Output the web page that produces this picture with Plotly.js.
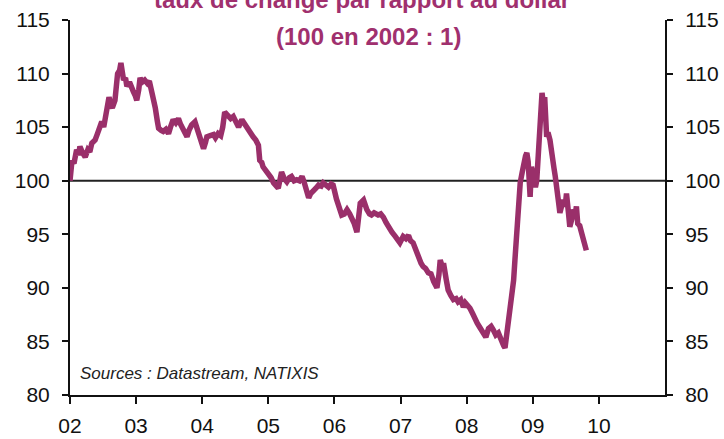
<!DOCTYPE html>
<html>
<head>
<meta charset="utf-8">
<script src="https://cdn.plot.ly/plotly-3.0.1.min.js"></script>
<style>
  html, body { margin: 0; padding: 0; background: #ffffff; }
  #chart { width: 724px; height: 439px; }
</style>
</head>
<body>
<div id="chart"></div>
<script>
// ---- data ----
const years = [
  2002.00, 2002.01, 2002.03, 2002.06, 2002.10, 2002.13, 2002.15, 2002.19, 2002.23, 2002.27,
  2002.30, 2002.33, 2002.38, 2002.41, 2002.43, 2002.46, 2002.48, 2002.51, 2002.54, 2002.56,
  2002.59, 2002.62, 2002.64, 2002.68, 2002.70, 2002.72, 2002.75, 2002.77, 2002.79, 2002.81,
  2002.84, 2002.86, 2002.90, 2002.93, 2002.96, 2002.99, 2003.01, 2003.04, 2003.06, 2003.09,
  2003.13, 2003.17, 2003.20, 2003.24, 2003.27, 2003.29, 2003.32, 2003.34, 2003.38, 2003.41,
  2003.45, 2003.49, 2003.52, 2003.56, 2003.60, 2003.64, 2003.67, 2003.71, 2003.74, 2003.77,
  2003.80, 2003.84, 2003.89, 2003.92, 2003.94, 2003.97, 2004.02, 2004.05, 2004.07, 2004.12,
  2004.17, 2004.20, 2004.24, 2004.28, 2004.31, 2004.34, 2004.37, 2004.39, 2004.43, 2004.47,
  2004.51, 2004.55, 2004.60, 2004.64, 2004.67, 2004.72, 2004.77, 2004.81, 2004.85, 2004.87,
  2004.90, 2004.92, 2004.96, 2005.00, 2005.04, 2005.08, 2005.12, 2005.15, 2005.18, 2005.20,
  2005.24, 2005.28, 2005.32, 2005.35, 2005.39, 2005.43, 2005.47, 2005.51, 2005.54, 2005.56,
  2005.61, 2005.64, 2005.68, 2005.72, 2005.76, 2005.80, 2005.83, 2005.87, 2005.91, 2005.95,
  2005.98, 2006.03, 2006.06, 2006.09, 2006.11, 2006.15, 2006.19, 2006.23, 2006.26, 2006.30,
  2006.34, 2006.36, 2006.39, 2006.44, 2006.47, 2006.49, 2006.53, 2006.56, 2006.60, 2006.66,
  2006.70, 2006.74, 2006.78, 2006.82, 2006.87, 2006.92, 2006.96, 2006.99, 2007.04, 2007.08,
  2007.12, 2007.15, 2007.19, 2007.23, 2007.27, 2007.31, 2007.34, 2007.38, 2007.42, 2007.46,
  2007.50, 2007.55, 2007.58, 2007.60, 2007.63, 2007.65, 2007.69, 2007.72, 2007.76, 2007.80,
  2007.84, 2007.87, 2007.91, 2007.95, 2007.98, 2008.02, 2008.05, 2008.09, 2008.13, 2008.16,
  2008.20, 2008.25, 2008.29, 2008.33, 2008.37, 2008.40, 2008.44, 2008.48, 2008.53, 2008.56,
  2008.58, 2008.61, 2008.64, 2008.66, 2008.69, 2008.71, 2008.73, 2008.76, 2008.78, 2008.81,
  2008.84, 2008.86, 2008.89, 2008.91, 2008.93, 2008.96, 2008.98, 2009.01, 2009.04, 2009.06,
  2009.09, 2009.11, 2009.13, 2009.14, 2009.16, 2009.18, 2009.21, 2009.23, 2009.26, 2009.29,
  2009.32, 2009.34, 2009.36, 2009.39, 2009.41, 2009.44, 2009.46, 2009.49, 2009.51, 2009.54,
  2009.56, 2009.59, 2009.61, 2009.64, 2009.66, 2009.68, 2009.71, 2009.74, 2009.77, 2009.79,
  2009.81
];
const indexValues = [
  100.0, 101.2, 101.9, 101.6, 102.9, 102.4, 103.2, 102.6, 102.2, 102.9,
  102.7, 103.5, 103.8, 104.3, 104.7, 105.3, 105.5, 105.0, 106.2, 107.1,
  107.8, 107.0, 106.8, 107.5, 108.6, 110.0, 110.3, 111.0, 110.2, 109.4,
  109.6, 108.8, 109.2, 108.6, 108.3, 107.9, 107.5, 108.5, 109.6, 109.2,
  109.4, 109.1, 109.3, 108.2, 107.6, 106.8, 105.6, 104.9, 104.7, 104.6,
  104.8, 104.4, 105.0, 105.7, 105.4, 105.8, 105.3, 104.9, 104.6, 104.1,
  104.7, 105.2, 105.5, 105.0, 104.6, 104.2, 103.0, 103.6, 104.1, 104.2,
  104.3, 104.0, 104.4, 104.2, 105.0, 106.4, 106.2, 106.1, 105.8, 106.0,
  105.6, 105.0, 105.7, 105.3, 104.9, 104.5, 104.1, 103.8, 103.3, 101.9,
  101.7, 101.3, 101.0, 100.8, 100.3, 99.8, 99.6, 99.3, 100.2, 100.8,
  100.2, 99.9, 100.3, 100.4, 100.0, 100.1, 100.0, 100.4, 99.9, 99.4,
  98.4, 98.8, 99.0, 99.3, 99.6, 99.5, 99.8, 99.5, 99.4, 99.7,
  99.6, 98.3, 97.6, 97.2, 96.8, 96.9, 97.3, 96.9, 96.6, 96.0,
  95.2, 96.5, 97.9, 98.2, 97.6, 97.3, 96.9, 96.8, 97.0, 96.8,
  96.9, 96.6, 96.1, 95.6, 95.2, 94.8, 94.5, 94.2, 94.8, 94.6,
  94.9, 94.4, 94.2, 93.5, 92.9, 92.3, 92.0, 91.8, 91.4, 91.3,
  90.6, 90.0, 91.2, 92.6, 92.0, 92.3, 90.8, 89.8, 89.3, 88.9,
  89.0, 88.7, 88.9, 88.2, 88.6, 88.4, 88.1, 87.6, 87.0, 86.7,
  86.3, 85.8, 85.4, 86.2, 86.4, 86.1, 85.6, 85.8, 84.8, 84.6,
  84.4, 85.8, 87.0, 88.2, 89.5, 90.7, 92.6, 95.7, 97.6, 99.8,
  100.8, 101.6, 102.3, 102.6, 101.8, 98.5, 101.3, 100.5, 99.4, 100.0,
  102.6, 104.4, 106.5, 108.2, 107.2, 107.8, 104.1, 104.5, 103.8, 101.9,
  101.2, 100.4, 98.8, 98.0, 97.0, 97.5, 98.2, 97.6, 98.8, 97.0,
  95.7, 96.4, 97.3, 96.8, 97.6, 96.0, 95.8, 95.1, 94.4, 93.8,
  93.5
];
const tickYears  = [2002, 2003, 2004, 2005, 2006, 2007, 2008, 2009, 2010];
const tickLabels = ['02', '03', '04', '05', '06', '07', '08', '09', '10'];
const yTickVals  = [80, 85, 90, 95, 100, 105, 110, 115];
const xRange = [2002, 2011];
const yRange = [80, 115];
const baseValue = 100;
const titleLine1 = 'taux de change par rapport au dollar';
const titleLine2 = '(100 en 2002 : 1)';
const sourceText = 'Sources : Datastream, NATIXIS';

// ---- styles ----
const lineColor = '#9a2f6a';
const titleColor = '#a0306e';
const tickFont = { family: '"Liberation Sans", Arial, sans-serif', size: 21, color: '#111111' };

const traces = [
  {
    x: years, y: indexValues, type: 'scatter', mode: 'lines',
    line: { color: lineColor, width: 5.5, shape: 'linear' },
    hoverinfo: 'skip', showlegend: false, xaxis: 'x', yaxis: 'y'
  },
  {
    x: years, y: indexValues, type: 'scatter', mode: 'lines',
    line: { color: 'rgba(0,0,0,0)', width: 0 },
    hoverinfo: 'skip', showlegend: false, xaxis: 'x', yaxis: 'y2'
  }
];

const axisCommon = {
  range: yRange, tickvals: yTickVals, ticks: 'outside', ticklen: 6, tickwidth: 2,
  tickcolor: '#111', showline: true, linecolor: '#111', linewidth: 2,
  showgrid: false, zeroline: false, tickfont: tickFont, fixedrange: true,
  ticklabelstandoff: 8
};

const layout = {
  width: 724, height: 439,
  margin: { l: 70, r: 59, t: 20, b: 44, pad: 0 },
  paper_bgcolor: '#ffffff', plot_bgcolor: '#ffffff',
  showlegend: false,
  xaxis: {
    range: xRange, tickvals: tickYears, ticktext: tickLabels,
    ticks: 'outside', ticklen: 7, tickwidth: 2, tickcolor: '#111',
    showline: true, linecolor: '#111', linewidth: 2,
    showgrid: false, zeroline: false, tickfont: tickFont, fixedrange: true,
    ticklabelstandoff: 4
  },
  yaxis: Object.assign({}, axisCommon, { side: 'left' }),
  yaxis2: Object.assign({}, axisCommon, { side: 'right', overlaying: 'y' }),
  shapes: [
    { type: 'line', xref: 'paper', x0: 0, x1: 1, yref: 'y', y0: baseValue, y1: baseValue,
      line: { color: '#222', width: 2 }, layer: 'below' }
  ],
  annotations: [
    { text: '<b>' + titleLine1 + '</b>', xref: 'paper', yref: 'paper', x: 0.49, y: 1.055,
      xanchor: 'center', yanchor: 'middle', showarrow: false,
      font: { family: '"Liberation Sans", Arial, sans-serif', size: 24, color: titleColor } },
    { text: '<b>' + titleLine2 + '</b>', xref: 'paper', yref: 'paper', x: 0.502, y: 0.957,
      xanchor: 'center', yanchor: 'middle', showarrow: false,
      font: { family: '"Liberation Sans", Arial, sans-serif', size: 24, color: titleColor } },
    { text: '<i>' + sourceText + '</i>', xref: 'paper', yref: 'paper', x: 0.014, y: 0.058,
      xanchor: 'left', yanchor: 'middle', showarrow: false,
      font: { family: '"Liberation Sans", Arial, sans-serif', size: 17, color: '#222222' } }
  ]
};

Plotly.newPlot('chart', traces, layout, { staticPlot: true, displayModeBar: false });
</script>
</body>
</html>
